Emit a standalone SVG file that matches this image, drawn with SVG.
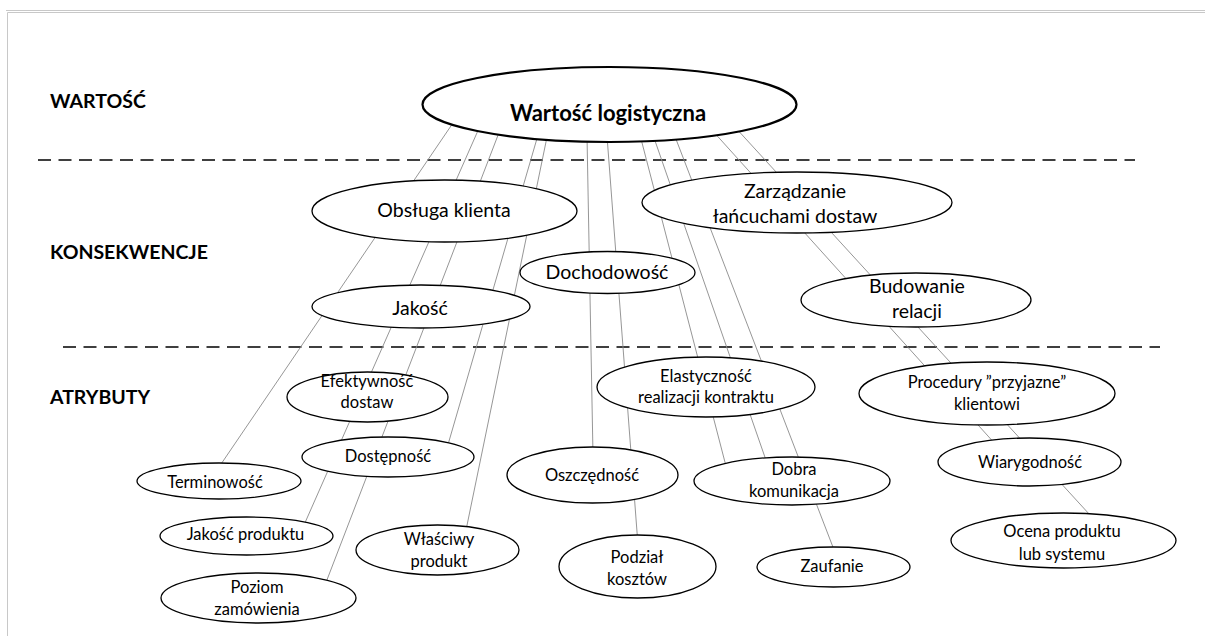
<svg xmlns="http://www.w3.org/2000/svg" width="1205" height="636" viewBox="0 0 1205 636">
  <style>
    .frame { stroke: #c8c8c8; stroke-width: 1; fill: none; }
    .sep { stroke: #000; stroke-width: 1.6; stroke-dasharray: 13 7.5; fill: none; }
    .link { stroke: #8a8a8a; stroke-width: 0.9; fill: none; }
    .node { fill: #fff; stroke: #000; stroke-width: 1.3; }
    .root { fill: #fff; stroke: #000; stroke-width: 2.2; }
    .lvl { font-family: Lato, "Liberation Sans", sans-serif; font-weight: bold; font-size: 19.5px; fill: #000; }
    .t-root { font-family: Lato, "Liberation Sans", sans-serif; font-weight: bold; font-size: 22px; fill: #000; text-anchor: middle; }
    .t-mid { font-family: Lato, "Liberation Sans", sans-serif; font-size: 19.5px; fill: #000; text-anchor: middle; }
    .t-low { font-family: Lato, "Liberation Sans", sans-serif; font-size: 16.5px; fill: #000; text-anchor: middle; }
  </style>

  <!-- page frame -->
  <g id="frame">
    <line class="frame" x1="6" y1="10.5" x2="1205" y2="10.5"/>
    <line class="frame" x1="7.5" y1="12.5" x2="1205" y2="12.5"/>
    <line class="frame" x1="7.5" y1="12.5" x2="7.5" y2="636"/>
  </g>

  <!-- level labels and separators -->
  <g id="levels">
    <text class="lvl" x="50" y="108">WARTOŚĆ</text>
    <text class="lvl" x="50" y="259">KONSEKWENCJE</text>
    <text class="lvl" x="50" y="404">ATRYBUTY</text>
    <line class="sep" x1="38" y1="160" x2="1135" y2="160"/>
    <line class="sep" x1="63" y1="347" x2="1160" y2="347"/>
  </g>

  <!-- connectors from the value node down to the attributes -->
  <g id="connectors">
    <line class="link" x1="455" y1="120" x2="217" y2="470"/>
    <line class="link" x1="480" y1="126" x2="304" y2="525"/>
    <line class="link" x1="500" y1="130" x2="325" y2="585"/>
    <line class="link" x1="538" y1="135" x2="447" y2="448"/>
    <line class="link" x1="547" y1="137" x2="465" y2="535"/>
    <line class="link" x1="587" y1="136" x2="593" y2="455"/>
    <line class="link" x1="607" y1="136" x2="638" y2="545"/>
    <line class="link" x1="640" y1="135" x2="727" y2="470"/>
    <line class="link" x1="653" y1="135" x2="768" y2="466"/>
    <line class="link" x1="674" y1="134" x2="836" y2="555"/>
    <line class="link" x1="711" y1="129" x2="997" y2="446"/>
    <line class="link" x1="734" y1="126" x2="1090" y2="515"/>
  </g>

  <!-- value -->
  <g id="n-wartosc-logistyczna">
    <ellipse class="root" cx="609.5" cy="104.5" rx="187" ry="37.5"/>
    <text class="t-root" x="608" y="121">Wartość logistyczna</text>
  </g>

  <!-- consequences -->
  <g id="n-obsluga-klienta">
    <ellipse class="node" cx="444.5" cy="211" rx="132.5" ry="31"/>
    <text class="t-mid" x="444" y="217">Obsługa klienta</text>
  </g>
  <g id="n-jakosc">
    <ellipse class="node" cx="421" cy="306.5" rx="109" ry="21.5"/>
    <text class="t-mid" x="420" y="315">Jakość</text>
  </g>
  <g id="n-dochodowosc">
    <ellipse class="node" cx="607.5" cy="272.5" rx="87.5" ry="21"/>
    <text class="t-mid" x="607" y="279">Dochodowość</text>
  </g>
  <g id="n-zarzadzanie">
    <ellipse class="node" cx="797" cy="202.5" rx="155" ry="30.5"/>
    <text class="t-mid" x="795" y="198">Zarządzanie</text>
    <text class="t-mid" x="795" y="223">łańcuchami dostaw</text>
  </g>
  <g id="n-budowanie-relacji">
    <ellipse class="node" cx="916" cy="300" rx="115" ry="27"/>
    <text class="t-mid" x="917" y="293">Budowanie</text>
    <text class="t-mid" x="917" y="318">relacji</text>
  </g>

  <!-- attributes -->
  <g id="n-efektywnosc-dostaw">
    <ellipse class="node" cx="367.5" cy="397" rx="80.5" ry="25"/>
    <text class="t-low" x="367" y="387">Efektywność</text>
    <text class="t-low" x="367" y="408">dostaw</text>
  </g>
  <g id="n-dostepnosc">
    <ellipse class="node" cx="388" cy="457" rx="86" ry="20"/>
    <text class="t-low" x="388" y="462">Dostępność</text>
  </g>
  <g id="n-terminowosc">
    <ellipse class="node" cx="219" cy="481" rx="82" ry="18"/>
    <text class="t-low" x="215" y="488">Terminowość</text>
  </g>
  <g id="n-jakosc-produktu">
    <ellipse class="node" cx="246.5" cy="536" rx="86.5" ry="19"/>
    <text class="t-low" x="245.5" y="540">Jakość produktu</text>
  </g>
  <g id="n-poziom-zamowienia">
    <ellipse class="node" cx="258.5" cy="598" rx="97.5" ry="25"/>
    <text class="t-low" x="257" y="593">Poziom</text>
    <text class="t-low" x="257" y="615">zamówienia</text>
  </g>
  <g id="n-wlasciwy-produkt">
    <ellipse class="node" cx="437.5" cy="550" rx="81.5" ry="25"/>
    <text class="t-low" x="439" y="545">Właściwy</text>
    <text class="t-low" x="439" y="567">produkt</text>
  </g>
  <g id="n-elastycznosc">
    <ellipse class="node" cx="706" cy="387" rx="109" ry="30"/>
    <text class="t-low" x="706" y="382">Elastyczność</text>
    <text class="t-low" x="706" y="403">realizacji kontraktu</text>
  </g>
  <g id="n-oszczednosc">
    <ellipse class="node" cx="592.5" cy="475" rx="85.5" ry="28"/>
    <text class="t-low" x="592" y="481">Oszczędność</text>
  </g>
  <g id="n-podzial-kosztow">
    <ellipse class="node" cx="637.5" cy="566.5" rx="78.5" ry="31.5"/>
    <text class="t-low" x="637" y="563">Podział</text>
    <text class="t-low" x="637" y="585">kosztów</text>
  </g>
  <g id="n-dobra-komunikacja">
    <ellipse class="node" cx="792" cy="481" rx="98" ry="24"/>
    <text class="t-low" x="794" y="475">Dobra</text>
    <text class="t-low" x="794" y="497">komunikacja</text>
  </g>
  <g id="n-zaufanie">
    <ellipse class="node" cx="833.5" cy="567" rx="76.5" ry="20"/>
    <text class="t-low" x="832" y="572">Zaufanie</text>
  </g>
  <g id="n-procedury">
    <ellipse class="node" cx="987" cy="393.5" rx="128" ry="31.5"/>
    <text class="t-low" x="987" y="388">Procedury ”przyjazne”</text>
    <text class="t-low" x="987" y="410">klientowi</text>
  </g>
  <g id="n-wiarygodnosc">
    <ellipse class="node" cx="1029.5" cy="462" rx="91.5" ry="24"/>
    <text class="t-low" x="1030" y="468">Wiarygodność</text>
  </g>
  <g id="n-ocena-produktu">
    <ellipse class="node" cx="1063.5" cy="540.5" rx="112.5" ry="27.5"/>
    <text class="t-low" x="1062" y="537">Ocena produktu</text>
    <text class="t-low" x="1062" y="560">lub systemu</text>
  </g>
</svg>
